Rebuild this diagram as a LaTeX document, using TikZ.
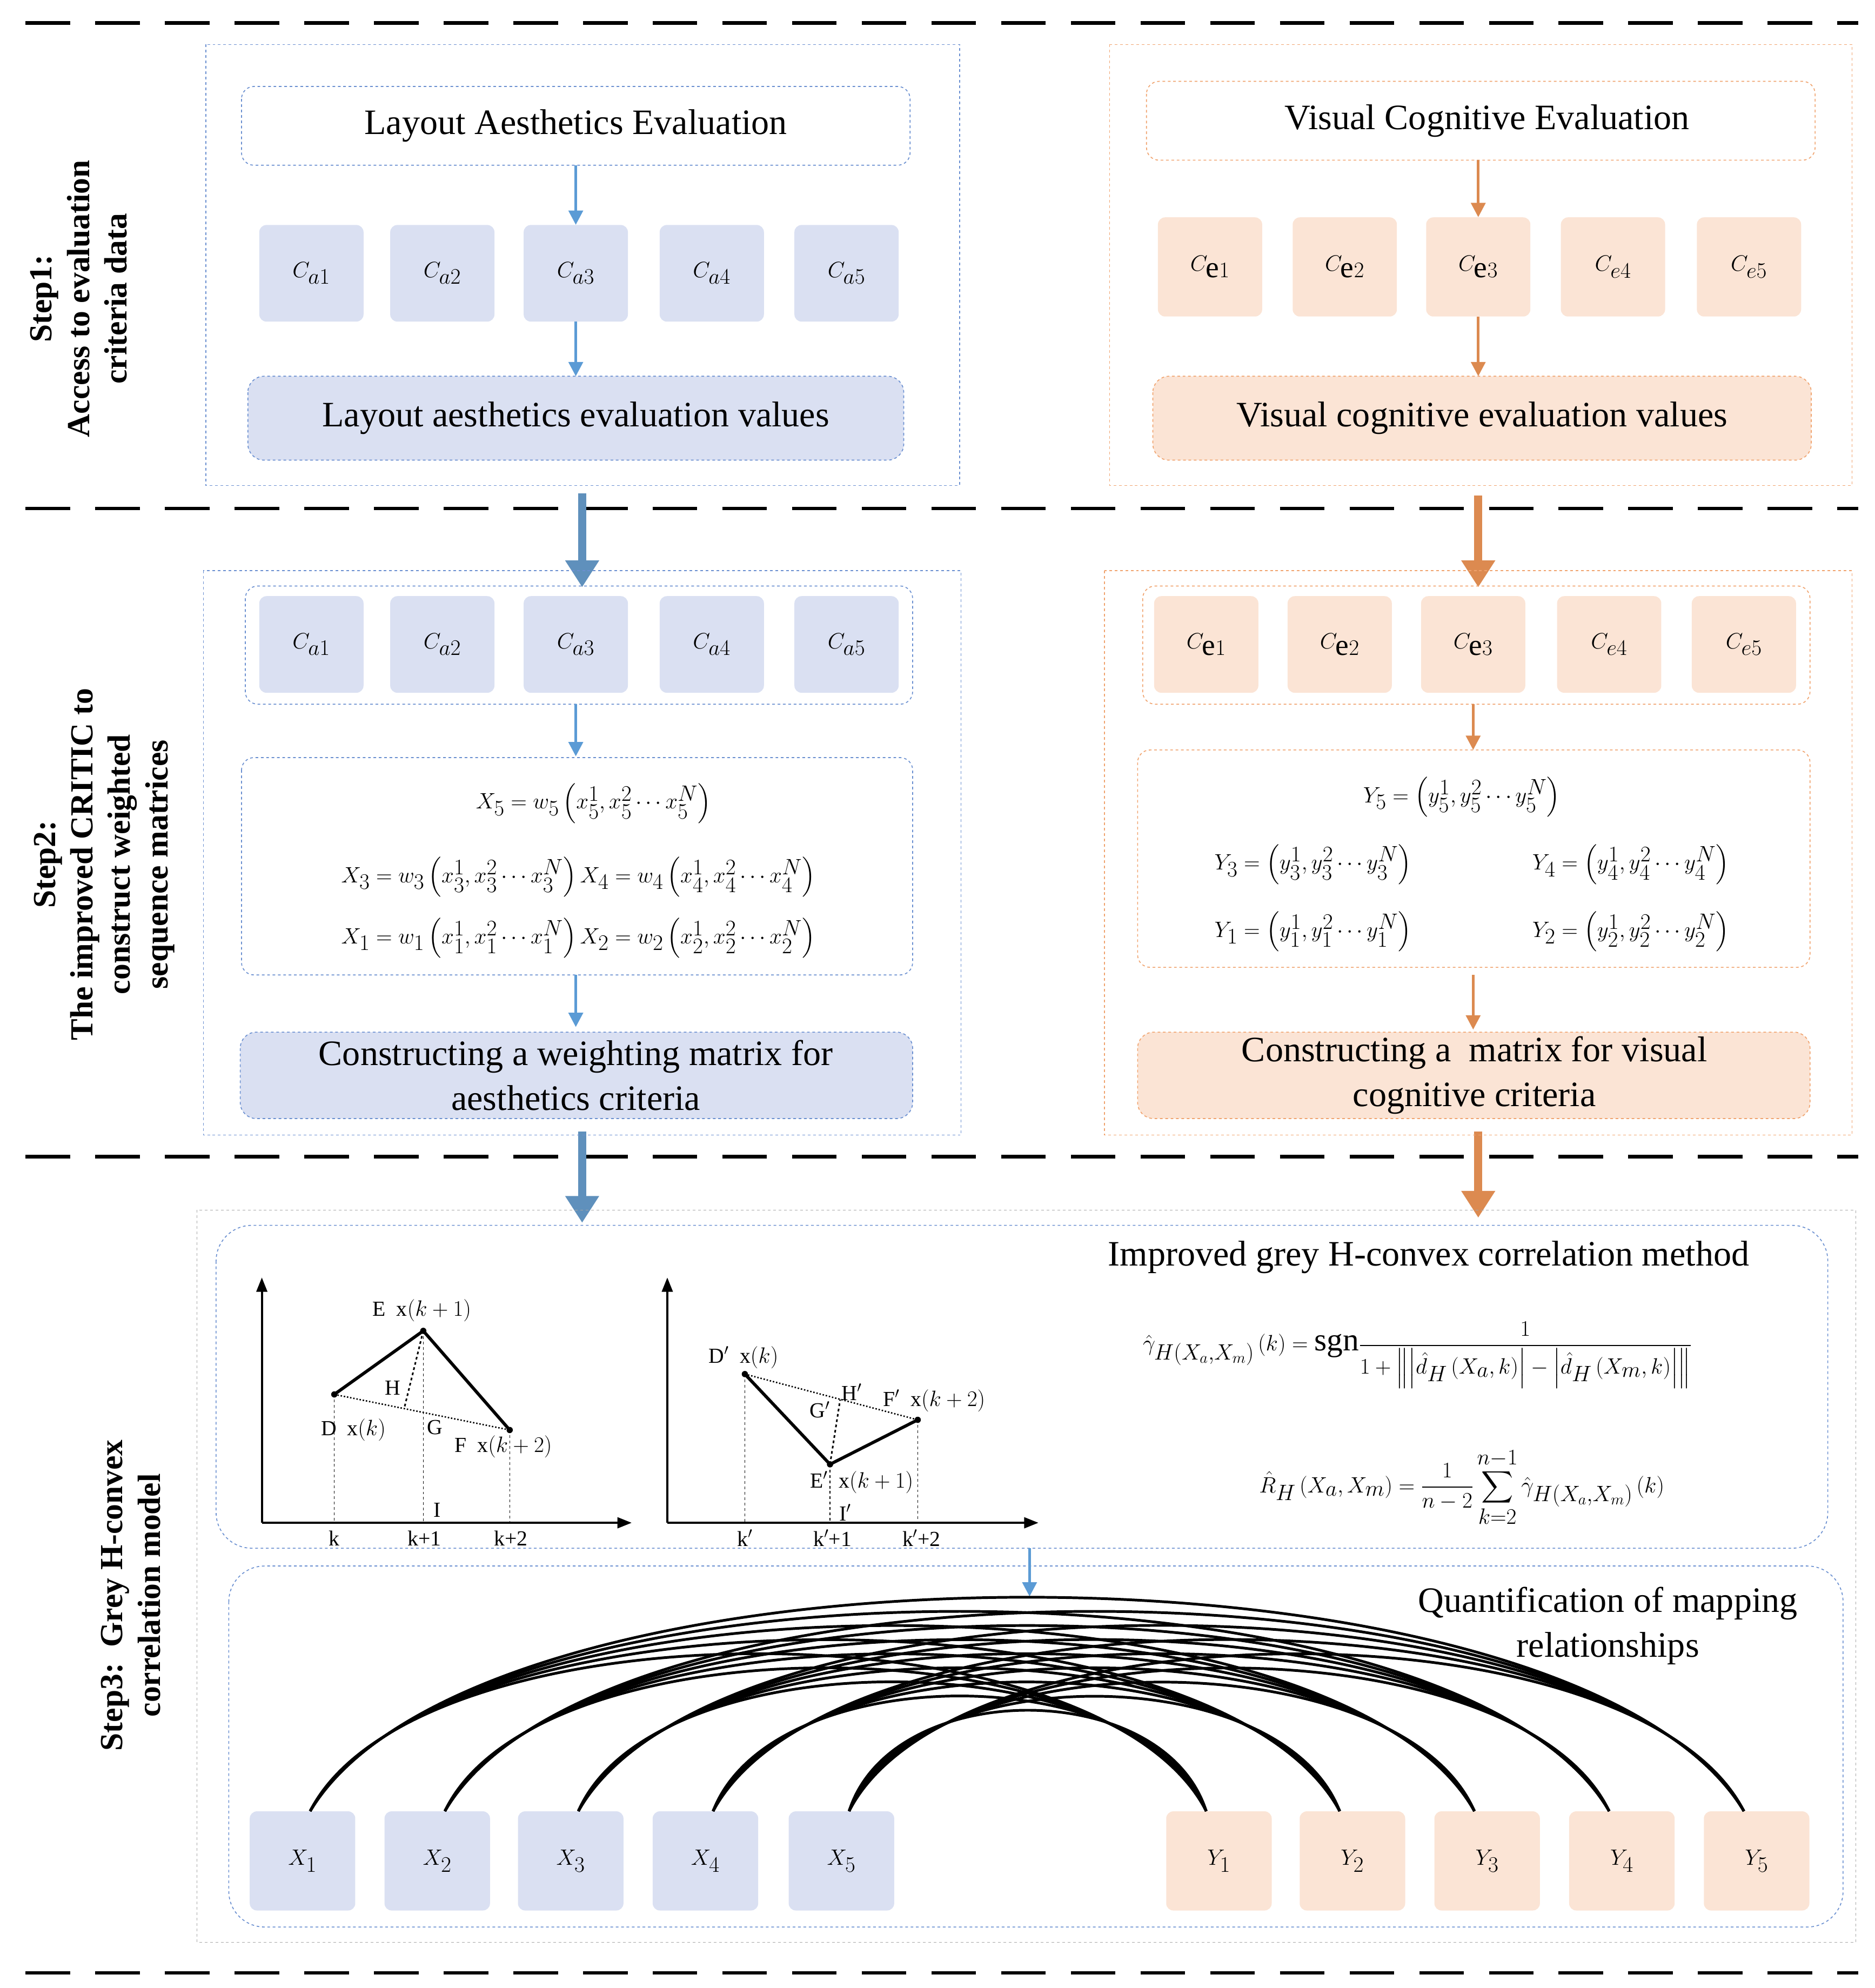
\documentclass[tikz,border=0pt]{standalone}
\usepackage{amsmath}
\usepackage{fontspec}
\setmainfont{Liberation Serif}
\usetikzlibrary{calc,arrows.meta}
\definecolor{bl}{HTML}{6A8FD0}
\definecolor{blA}{HTML}{5B9BD5}
\definecolor{blF}{HTML}{DAE0F2}
\definecolor{orL}{HTML}{F0A36E}
\definecolor{orA}{HTML}{DC8A50}
\definecolor{orF}{HTML}{FBE4D5}
\tikzset{
  mytxt/.style={font=\fontsize{40}{50}\selectfont},
  myfml/.style={font=\fontsize{36}{46}\selectfont, inner sep=0pt},
  mysmall/.style={font=\fontsize{24}{28}\selectfont, inner sep=1pt},
  mystep/.style={font=\fontsize{36}{42}\selectfont\bfseries, rotate=90, align=center},
  mybframe/.style={draw=bl, dashed, line width=1pt},
  myoframe/.style={draw=orL, dashed, line width=1pt},
  mygframe/.style={draw=gray!70, dashed, line width=1pt},
  mybbox/.style={fill=blF, rounded corners=8pt},
  myobox/.style={fill=orF, rounded corners=8pt},
  myba/.style={draw=blA, line width=3pt, -{Triangle[length=16pt,width=16pt]}},
  myoa/.style={draw=orA, line width=3pt, -{Triangle[length=16pt,width=16pt]}},
  mybigb/.style={draw=blA!85!black!90, line width=9pt, -{Triangle[length=30pt,width=36pt]}},
  mybigo/.style={draw=orA, line width=9pt, -{Triangle[length=30pt,width=36pt]}},
  mysep/.style={line width=4pt, dash pattern=on 50pt off 28pt},
  myarc/.style={line width=3pt},
  myax/.style={line width=2.5pt, -{Triangle[length=16pt,width=12pt]}},
  mydot/.style={circle, fill=black, inner sep=0pt, minimum size=7pt}
}
\begin{document}
\begin{tikzpicture}[x=0.5mm,y=-0.5mm]
\useasboundingbox (0,0) rectangle (1475,1564);
% separators
\foreach \y in {18,400,910,1552} \draw[mysep] (20,\y) -- (1462,\y);
% step labels
\node[mystep] (s1) at (62,235) {Step1:\\Access to evaluation\\criteria data};
\node[mystep] (s2) at (82,680) {Step2:\\The improved CRITIC to\\construct weighted\\sequence matrices};
\node[mystep] (s3) at (103,1255) {Step3:\ \ Grey H-convex\\correlation model};

% ===== Step1 left
\draw[mybframe] (162,35) rectangle (755,382);
\draw[mybframe, fill=white, rounded corners=14pt] (190,68) rectangle (716,130);
\node[mytxt] (laeT) at (453,99) {Layout Aesthetics Evaluation};
\foreach \x/\i in {245/1,348/2,453/3,560/4,666/5}{
  \node[mybbox, minimum width=41mm, minimum height=38mm] (A\i) at (\x,215) {\fontsize{48}{50}\selectfont$C_{a\i}$};}
\draw[mybframe, fill=blF, rounded corners=18pt] (195,296) rectangle (711,362);
\node[mytxt] (lav) at (453,329) {Layout aesthetics evaluation values};
\draw[myba] (453,130) -- (A3.north);
\draw[myba] (A3.south) -- (453,296);

% ===== Step1 right
\draw[myoframe] (873,35) rectangle (1457,382);
\draw[myoframe, fill=white, rounded corners=14pt] (902,64) rectangle (1428,126);
\node[mytxt] (vce) at (1170,95) {Visual Cognitive Evaluation};
\foreach \x/\i/\s in {952/1/\mathrm{e}1,1058/2/\mathrm{e}2,1163/3/\mathrm{e}3,1269/4/e4,1376/5/e5}{
  \node[myobox, minimum width=41mm, minimum height=39mm] (E\i) at (\x,210) {\fontsize{48}{50}\selectfont$C_{\s}$};}
\draw[myoframe, fill=orF, rounded corners=18pt] (907,296) rectangle (1425,362);
\node[mytxt] (vcv) at (1166,329) {Visual cognitive evaluation values};
\draw[myoa] (1163,126) -- (E3.north);
\draw[myoa] (E3.south) -- (1163,296);

% big arrows
\coordinate (b1s) at (458,388); \coordinate (b1e) at (458,462);
\coordinate (o1s) at (1163,390); \coordinate (o1e) at (1163,462);
\draw[mybigb] (b1s) -- (b1e);
\draw[mybigo] (o1s) -- (o1e);
\coordinate (b2s) at (458,890); \coordinate (b2e) at (458,962);
\coordinate (o2s) at (1163,890); \coordinate (o2e) at (1163,958);
\draw[mybigb] (b2s) -- (b2e);
\draw[mybigo] (o2s) -- (o2e);

% ===== Step2 left
\draw[mybframe] (160,449) rectangle (756,893);
\draw[mybframe, rounded corners=14pt] (193,461) rectangle (718,554);
\foreach \x/\i in {245/1,348/2,453/3,560/4,666/5}{
  \node[mybbox, minimum width=41mm, minimum height=38mm] (B\i) at (\x,507) {\fontsize{48}{50}\selectfont$C_{a\i}$};}
\draw[mybframe, rounded corners=14pt] (190,596) rectangle (718,767);
\node[myfml] (fx5) at (467,632) {$X_5=w_5\left(x_5^1,x_5^2\cdots x_5^N\right)$};
\node[myfml] (fx3) at (455,690) {$X_3=w_3\left(x_3^1,x_3^2\cdots x_3^N\right)X_4=w_4\left(x_4^1,x_4^2\cdots x_4^N\right)$};
\node[myfml] (fx1) at (455,738) {$X_1=w_1\left(x_1^1,x_1^2\cdots x_1^N\right)X_2=w_2\left(x_2^1,x_2^2\cdots x_2^N\right)$};
\draw[mybframe, fill=blF, rounded corners=18pt] (189,812) rectangle (718,880);
\node[mytxt, align=center] (cwm) at (453,846) {Constructing a weighting matrix for\\aesthetics criteria};
\draw[myba] (453,554) -- (453,595);
\draw[myba] (453,767) -- (453,808);

% ===== Step2 right
\draw[myoframe] (869,449) rectangle (1457,893);
\draw[myoframe, rounded corners=14pt] (899,461) rectangle (1424,554);
\foreach \x/\i/\s in {949/1/\mathrm{e}1,1054/2/\mathrm{e}2,1159/3/\mathrm{e}3,1266/4/e4,1372/5/e5}{
  \node[myobox, minimum width=41mm, minimum height=38mm] (F\i) at (\x,507) {\fontsize{48}{50}\selectfont$C_{\s}$};}
\draw[myoframe, rounded corners=14pt] (895,590) rectangle (1424,761);
\node[myfml] (fy5) at (1150,627) {$Y_5=\left(y_5^1,y_5^2\cdots y_5^N\right)$};
\node[myfml] (fy3) at (1033,680) {$Y_3=\left(y_3^1,y_3^2\cdots y_3^N\right)$};
\node[myfml] (fy4) at (1283,680) {$Y_4=\left(y_4^1,y_4^2\cdots y_4^N\right)$};
\node[myfml] (fy1) at (1033,733) {$Y_1=\left(y_1^1,y_1^2\cdots y_1^N\right)$};
\node[myfml] (fy2) at (1283,733) {$Y_2=\left(y_2^1,y_2^2\cdots y_2^N\right)$};
\draw[myoframe, fill=orF, rounded corners=18pt] (895,812) rectangle (1424,880);
\node[mytxt, align=center] (cvm) at (1160,846) {Constructing a\ \ matrix for visual\\cognitive criteria};
\draw[myoa] (1159,554) -- (1159,590);
\draw[myoa] (1159,767) -- (1159,810);

% ===== Step3
\draw[mygframe] (155,952) rectangle (1460,1528);
\draw[mybframe, rounded corners=40pt] (170,964) rectangle (1438,1218);
\draw[mybframe, rounded corners=40pt] (180,1232) rectangle (1450,1516);
\draw[myba] (810,1218) -- (810,1256);

% graph 1
\draw[myax] (206,1198) -- (206,1005);
\draw[myax] (206,1198) -- (497,1198);
\coordinate (D) at (263,1097); \coordinate (E) at (333,1047); \coordinate (F) at (401,1125); \coordinate (H) at (318,1108);
\foreach \p in {D,E,F} \draw[dashed, line width=0.8pt] (\p) -- (\p |- 0,1198);
\draw[dotted, line width=1.6pt] (D) -- (F);
\draw[dashed, line width=1.8pt] (E) -- (H);
\draw[line width=3.5pt] (D) -- (E) -- (F);
\foreach \p in {D,E,F} \node[mydot] at (\p) {};
\node[mysmall] (lE) at (332,1031) {E\ \ x$\left(k+1\right)$};
\node[mysmall] (lH) at (309,1092) {H};
\node[mysmall] (lG) at (342,1123) {G};
\node[mysmall] (lD) at (278,1125) {D\ \ x$\left(k\right)$};
\node[mysmall] (lF) at (396,1138) {F\ \ x$\left(k+2\right)$};
\node[mysmall] (lI) at (344,1188) {I};
\node[mysmall] (t1) at (263,1210) {k};
\node[mysmall] (t2) at (334,1210) {k+1};
\node[mysmall] (t3) at (402,1210) {k+2};

% graph 2
\draw[myax] (525,1198) -- (525,1005);
\draw[myax] (525,1198) -- (817,1198);
\coordinate (D2) at (586,1081); \coordinate (E2) at (653,1152); \coordinate (F2) at (722,1117); \coordinate (H2) at (661,1101);
\foreach \p in {D2,E2,F2} \draw[dashed, line width=0.8pt] (\p) -- (\p |- 0,1198);
\draw[dotted, line width=1.6pt] (D2) -- (F2);
\draw[dashed, line width=1.8pt] (E2) -- (H2);
\draw[line width=3.5pt] (D2) -- (E2) -- (F2);
\foreach \p in {D2,E2,F2} \node[mydot] at (\p) {};
\node[mysmall] (lD2) at (585,1068) {D$'$\ \ x$\left(k\right)$};
\node[mysmall] (lH2) at (670,1095) {H$'$};
\node[mysmall] (lG2) at (645,1109) {G$'$};
\node[mysmall] (lF2) at (735,1102) {F$'$\ \ x$\left(k+2\right)$};
\node[mysmall] (lE2) at (678,1166) {E$'$\ \ x$\left(k+1\right)$};
\node[mysmall] (lI2) at (665,1190) {I$'$};
\node[mysmall] (t4) at (586,1210) {k$'$};
\node[mysmall] (t5) at (655,1210) {k$'$+1};
\node[mysmall] (t6) at (725,1210) {k$'$+2};

% formulas
\node[mytxt] (igh) at (1124,989) {Improved grey H-convex correlation method};
\node[myfml] (gam) at (1115,1066) {$\hat{\gamma}_{H(X_a,X_m)}\left(k\right)=\mathrm{sgn}\dfrac{1}{1+\left\|\left|\hat{d}_H\left(X_a,k\right)\right|-\left|\hat{d}_H\left(X_m,k\right)\right|\right\|}$};
\node[myfml] (rh) at (1150,1170) {$\hat{R}_H\left(X_a,X_m\right)=\dfrac{1}{n-2}\displaystyle\sum_{k=2}^{n-1}\hat{\gamma}_{H(X_a,X_m)}\left(k\right)$};

% mapping
\node[mytxt, align=center] (qmr) at (1265,1279) {Quantification of mapping\\relationships};
\foreach \x/\i in {238/1,344/2,449/3,555/4,662/5}{
  \node[mybbox, minimum width=41.5mm, minimum height=39mm] (X\i) at (\x,1464) {\fontsize{48}{50}\selectfont$X_{\i}$};}
\foreach \x/\i in {959/1,1064/2,1170/3,1276/4,1382/5}{
  \node[myobox, minimum width=41.5mm, minimum height=39mm] (Y\i) at (\x,1464) {\fontsize{48}{50}\selectfont$Y_{\i}$};}
\foreach \i in {1,...,5}{\foreach \j in {1,...,5}{
  \draw[myarc] let \p1=([xshift=3mm]X\i.north), \p2=([xshift=-5mm]Y\j.north), \n1={\x2-\x1}, \n2={71pt+0.105*\n1} in
    (\p1) .. controls (\x1+0.12*\n1,\y1+1.333*\n2) and (\x2-0.12*\n1,\y1+1.333*\n2) .. (\p2);
}}
\end{tikzpicture}
\end{document}
